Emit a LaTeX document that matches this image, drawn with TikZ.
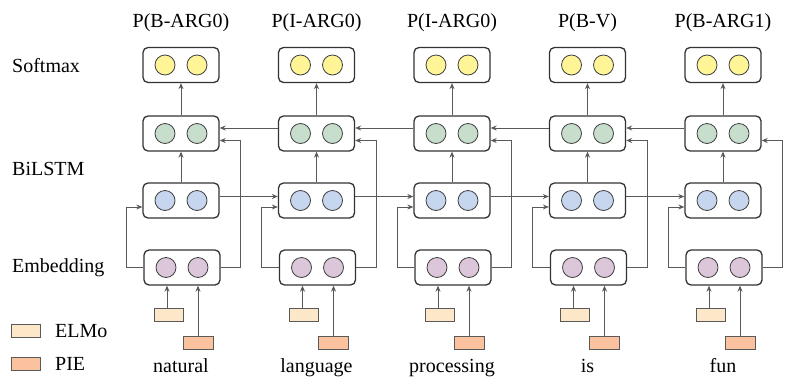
\documentclass[tikz,border=0pt]{standalone}
\usepackage{fontspec}
\setmainfont{Liberation Serif}
\usetikzlibrary{arrows.meta,calc}
\definecolor{yel}{RGB}{255,245,150}
\definecolor{grn}{RGB}{200,222,205}
\definecolor{blu}{RGB}{197,214,238}
\definecolor{pur}{RGB}{220,198,218}
\definecolor{elmoc}{RGB}{252,232,200}
\definecolor{piec}{RGB}{250,194,158}
\begin{document}
\begin{tikzpicture}[x=1pt,y=-1pt,
  font=\fontsize{20}{24}\selectfont,
  unit/.style={draw=black!80, line width=1.3pt, rounded corners=5pt, minimum width=76pt, minimum height=35pt, inner sep=0pt},
  neuron/.style={circle, draw=black!75, line width=0.8pt, minimum size=20pt, inner sep=0pt},
  feat/.style={draw=black!65, line width=1pt, minimum width=29pt, minimum height=13pt, inner sep=0pt},
  conn/.style={draw=black!65, line width=1pt, -{Stealth[length=6pt,width=5pt,fill=black!85]}},
  txt/.style={anchor=base, inner sep=0pt}
]
\useasboundingbox (0,0) rectangle (792,383);
\foreach \i/\x/\ttl/\wrd in {1/181/{P(B-ARG0)}/natural, 2/316.5/{P(I-ARG0)}/language, 3/452/{P(I-ARG0)}/processing, 4/587.5/{P(B-V)}/is, 5/723/{P(B-ARG1)}/fun}{
  \node[txt] (t\i) at (\x,27) {\ttl};
  \node[unit] (s\i) at (\x,65) {};
  \node[neuron, fill=yel] (s\i a) at (\x-16,65) {};
  \node[neuron, fill=yel] (s\i b) at (\x+16,65) {};
  \node[unit] (g\i) at (\x,133.5) {};
  \node[neuron, fill=grn] (g\i a) at (\x-16,133.5) {};
  \node[neuron, fill=grn] (g\i b) at (\x+16,133.5) {};
  \node[unit] (b\i) at (\x,200.5) {};
  \node[neuron, fill=blu] (b\i a) at (\x-16,200.5) {};
  \node[neuron, fill=blu] (b\i b) at (\x+16,200.5) {};
  \node[unit] (e\i) at (\x+1,267.5) {};
  \node[neuron, fill=pur] (e\i a) at (\x-15,267.5) {};
  \node[neuron, fill=pur] (e\i b) at (\x+17,267.5) {};
  \node[feat, fill=elmoc] (l\i) at (\x-12.5,314.5) {};
  \node[feat, fill=piec, minimum width=30pt] (p\i) at (\x+17,343) {};
  \node[txt] (w\i) at (\x,372) {\wrd};
  \draw[conn] (b\i) -- (g\i);
  \draw[conn] (g\i) -- (s\i);
  \draw[conn] ([xshift=-1.5pt]l\i.north) -- ([xshift=-1.5pt]l\i.north |- e\i.south);
  \draw[conn] (p\i.north) -- (p\i.north |- e\i.south);
  \draw[conn] (e\i.west) -- ++(-17,0) |- ($(b\i.west)+(0,6.5)$);
  \draw[conn] (e\i.east) -- ++(20,0) |- ($(g\i.east)+(0,7)$);
}
\foreach \i/\j in {1/2,2/3,3/4,4/5}{
  \draw[conn] ($(b\i.east)+(0,-4)$) -- ($(b\j.west)+(0,-4)$);
  \draw[conn] ($(g\j.west)+(0,-5.5)$) -- ($(g\i.east)+(0,-5.5)$);
}
\node[anchor=base west, inner sep=0pt] (lsoft) at (12,72) {Softmax};
\node[anchor=base west, inner sep=0pt] (lbil) at (12,175) {BiLSTM};
\node[anchor=base west, inner sep=0pt] (lemb) at (12,272) {Embedding};
\node[feat, fill=elmoc] (legE) at (26,331) {};
\node[anchor=base west, inner sep=0pt] (legEt) at (55,337.5) {ELMo};
\node[feat, fill=piec] (legP) at (26,363.5) {};
\node[anchor=base west, inner sep=0pt] (legPt) at (55,370) {PIE};
\end{tikzpicture}
\end{document}
